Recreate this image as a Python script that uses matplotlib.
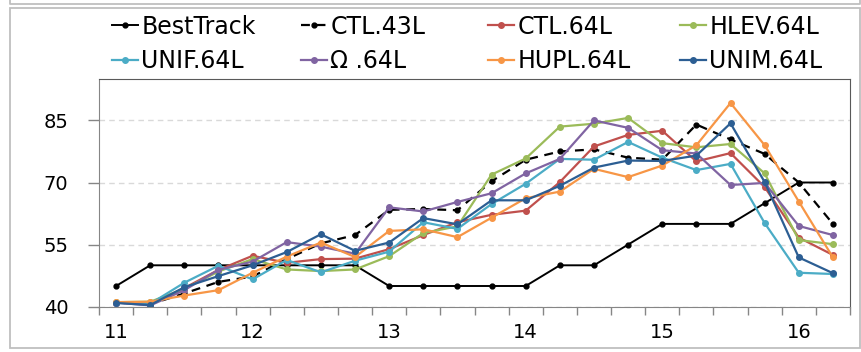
"""Intensity time series: best track vs. vertical-level experiments."""

import matplotlib
matplotlib.use("Agg")
import matplotlib.pyplot as plt
from matplotlib.lines import Line2D
from matplotlib.patches import Rectangle

# --- data (6-hourly, day 11.00 .. 16.25) ---
days = [11 + 0.25 * i for i in range(22)]

best_track = [45, 50, 50, 50, 50, 50, 50, 50, 45, 45, 45, 45, 45, 50, 50, 55, 60, 60, 60, 65, 70, 70]
ctl_43l = [41.0, 40.6, 43.2, 46.0, 47.3, 51.5, 55.3, 57.3, 63.4, 63.6, 63.3, 70.3, 75.5, 77.5, 78.0, 76.0,
           75.5, 84.0, 80.4, 76.9, 70.0, 60.0]
ctl_64l = [41.0, 40.6, 44.5, 48.9, 52.3, 50.6, 51.5, 51.6, 53.9, 57.3, 60.4, 62.2, 63.2, 70.1, 78.7, 81.5,
           82.5, 75.1, 77.1, 68.9, 56.7, 52.5]
hlev_64l = [41.1, 41.2, 44.3, 48.5, 51.5, 49.0, 48.6, 49.0, 52.2, 57.8, 59.4, 71.9, 75.8, 83.5, 84.2, 85.6,
            79.5, 78.5, 79.3, 72.2, 56.1, 55.1]
unif_64l = [41.0, 40.7, 45.8, 49.9, 46.6, 51.3, 48.3, 51.1, 53.3, 60.4, 58.8, 64.8, 69.7, 75.7, 75.5, 79.8,
            76.0, 73.0, 74.5, 60.2, 48.2, 47.9]
omega_64l = [41.0, 40.3, 44.0, 48.9, 50.9, 55.6, 54.5, 52.8, 64.0, 63.0, 65.3, 67.4, 72.2, 75.7, 85.0, 83.2,
             77.8, 77.0, 69.4, 69.9, 59.5, 57.3]
hupl_64l = [41.1, 41.2, 42.7, 44.0, 48.2, 52.1, 55.5, 52.0, 58.3, 58.7, 56.8, 61.5, 66.2, 67.8, 73.3, 71.3,
            74.1, 79.0, 89.2, 79.0, 65.4, 51.9]
unim_64l = [40.9, 40.4, 44.7, 47.4, 50.0, 53.2, 57.5, 53.5, 55.5, 61.4, 59.9, 65.7, 65.7, 69.2, 73.6, 75.3,
            75.2, 76.5, 84.3, 70.1, 51.9, 48.1]

labels = ["BestTrack", "CTL.43L", "CTL.64L", "HLEV.64L", "UNIF.64L", "Ω .64L", "HUPL.64L", "UNIM.64L"]
series = [best_track, ctl_43l, ctl_64l, hlev_64l, unif_64l, omega_64l, hupl_64l, unim_64l]
colors = ["black", "black", "#C0504D", "#9BBB59", "#4BACC6", "#8064A2", "#F79646", "#2C5E93"]

y_ticks = [40, 55, 70, 85]
x_ticks = [11, 12, 13, 14, 15, 16]

W, H = 862, 352
fig = plt.figure(figsize=(W / 100, H / 100), dpi=100)
ax = fig.add_axes([99 / W, 1 - 306.7 / H, (850 - 99) / W, (306.7 - 79) / H])

handles = []
for name, vals, col in zip(labels, series, colors):
    if name == "BestTrack":
        h, = ax.plot(days, vals, color=col, lw=1.4, marker="o", ms=3.5, label=name)
    elif name == "CTL.43L":
        h, = ax.plot(days, vals, color=col, lw=1.6, ls=(0, (4, 3)), marker="o", ms=3.5, label=name)
    else:
        h, = ax.plot(days, vals, color=col, lw=1.6, marker="o", ms=4, label=name)
    handles.append(h)

ax.set_xlim(10.875, 16.375)
ax.set_ylim(40, 95)
ax.set_yticks(y_ticks)
ax.set_xticks(x_ticks)
ax.set_xticks([10.875 + 0.25 * k for k in range(23)], minor=True)
ax.tick_params(axis="x", which="major", length=0, pad=12, labelsize=14)
ax.tick_params(axis="x", which="minor", length=6, width=1, color="#868686")
ax.tick_params(axis="y", length=8, width=1, color="#868686", pad=14, labelsize=14)
ax.grid(axis="y", color="#D9D9D9", ls=(0, (4, 3)), lw=1)
ax.set_axisbelow(True)
for side in ("left", "bottom"):
    ax.spines[side].set_color("#868686")
for side in ("top", "right"):
    ax.spines[side].set_color("#595959")

# legend: four columns, two rows each
col_x = [107, 296, 483, 675]
for c in range(4):
    fig.legend([handles[c], handles[c + 4]], [labels[c], labels[c + 4]],
               loc="upper left", bbox_to_anchor=(col_x[c] / W, 1 - 10 / H),
               frameon=False, fontsize=17, handlelength=1.1, handletextpad=0.15,
               labelspacing=0.45, borderpad=0.2, borderaxespad=0)

# chart borders
fig.add_artist(Rectangle((10 / W, 1 - 348 / H), (860 - 10) / W, (348 - 8) / H,
                         transform=fig.transFigure, fill=False, ec="#BFBFBF", lw=1.3))
fig.add_artist(Line2D([10 / W, 10 / W, 860 / W, 860 / W], [1.02, 1 - 4 / H, 1 - 4 / H, 1.02],
                      transform=fig.transFigure, color="#BFBFBF", lw=1.3))

fig.savefig("out.png", dpi=100)
